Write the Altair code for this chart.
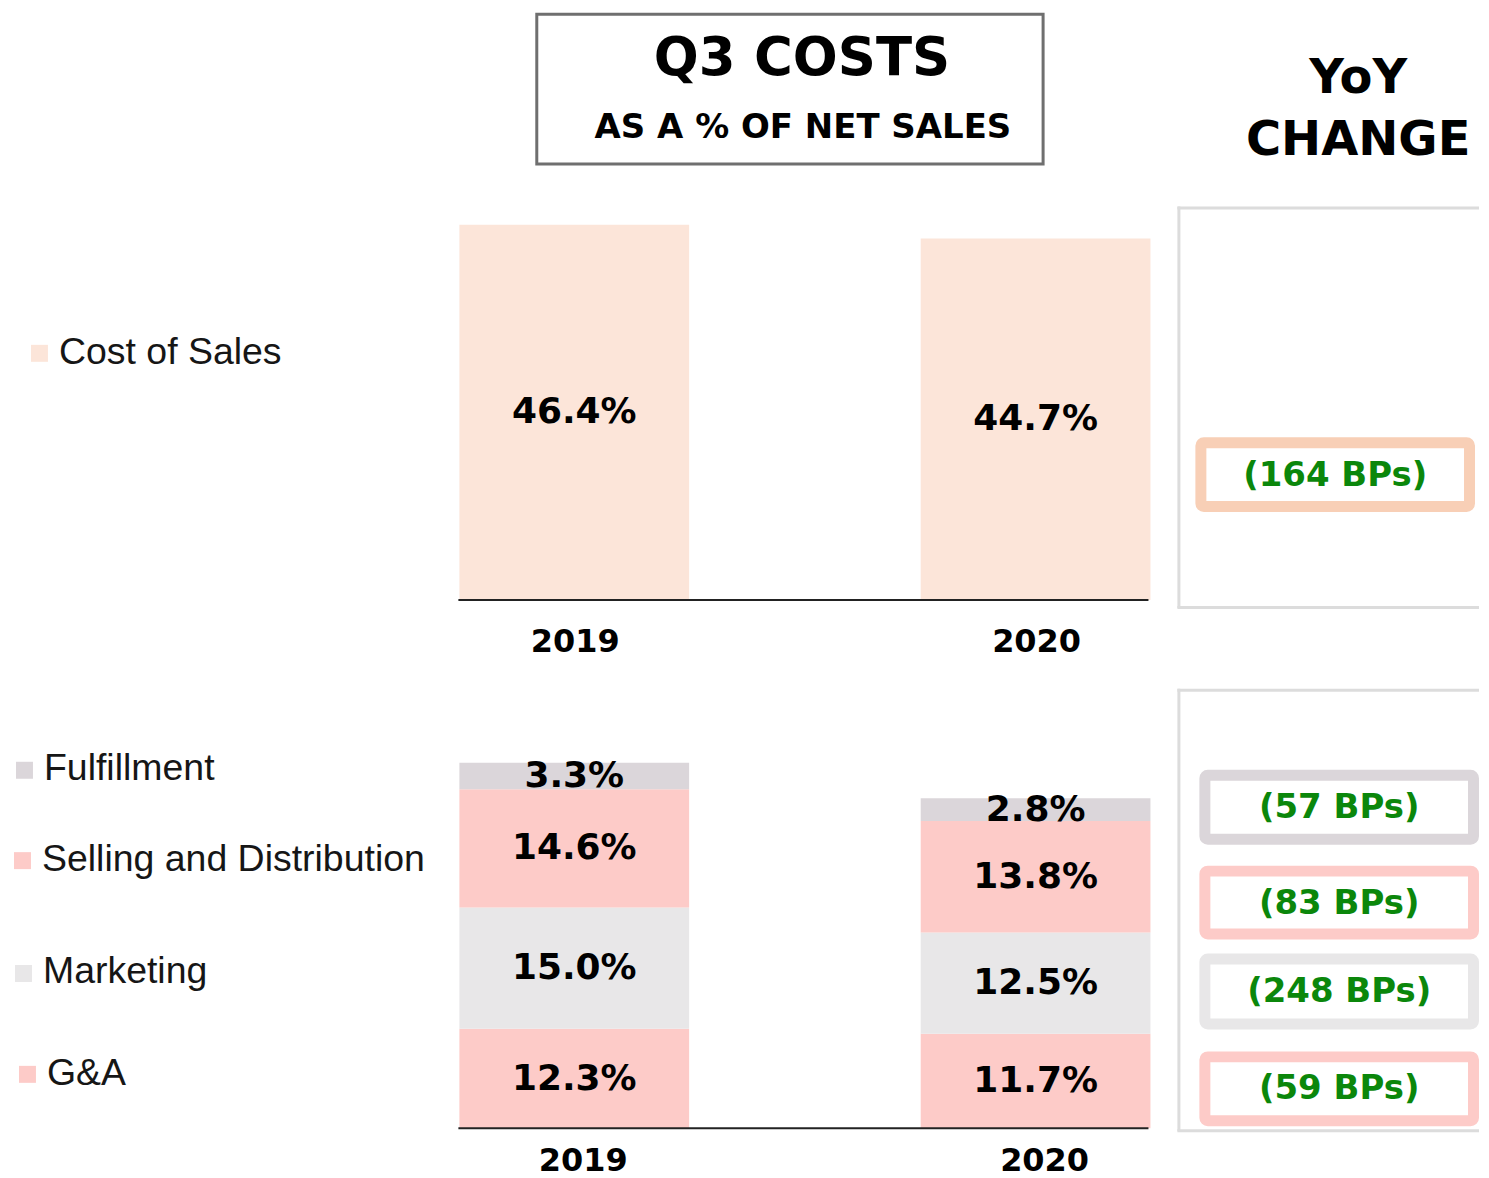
import altair as alt
import pandas as pd

# ---------------- data ----------------
years = ["2019", "2020"]
cos_category = "Cost of Sales"
cos_values = [46.4, 44.7]

opex_categories = ["G&A", "Marketing", "Selling and Distribution", "Fulfillment"]  # bottom -> top
opex_2019 = [12.3, 15.0, 14.6, 3.3]
opex_2020 = [11.7, 12.5, 13.8, 2.8]

legend_bottom = ["Fulfillment", "Selling and Distribution", "Marketing", "G&A"]
yoy_cos = ["(164 BPs)"]
yoy_opex = ["(57 BPs)", "(83 BPs)", "(248 BPs)", "(59 BPs)"]  # same order as legend_bottom

title_lines = ["Q3 COSTS", "AS A % OF NET SALES"]
yoy_title = ["YoY", "CHANGE"]

# ---------------- styles / layout ----------------
palette = {
    "Cost of Sales": "#FCE5D9",
    "Fulfillment": "#DBD6DA",
    "Selling and Distribution": "#FDCBC8",
    "Marketing": "#E8E7E8",
    "G&A": "#FDCBC8",
}
box_stroke = {
    "Cost of Sales": "#F8CFB6",
    "Fulfillment": "#DBD6DA",
    "Selling and Distribution": "#FDCBC8",
    "Marketing": "#E8E7E8",
    "G&A": "#FDCBC8",
}
GREEN = "#0B870B"
BOLD = "DejaVu Sans"
SANS = "Liberation Sans"

W = 1473
PX_PER_PCT = 8.1
H1 = 592
H2 = 449
SPACING = 80

xscale = alt.Scale(domain=years, range=[452, 1144], paddingInner=0.502, paddingOuter=0)
y1scale = alt.Scale(domain=[0, H1 / PX_PER_PCT], nice=False, zero=True)
y2scale = alt.Scale(domain=[0, H2 / PX_PER_PCT], nice=False, zero=True)
color_scale = alt.Scale(domain=list(palette.keys()), range=list(palette.values()))

dummy = pd.DataFrame({"d": [0]})


def text_at(txt, x, y, size, font=BOLD, weight="bold", color="black", align="center"):
    return alt.Chart(dummy).mark_text(
        text=txt, font=font, fontWeight=weight, fontSize=size, color=color,
        align=align, baseline="middle"
    ).encode(x=alt.value(x), y=alt.value(y))


def rule_at(x, x2, y, y2, color, width):
    return alt.Chart(dummy).mark_rule(color=color, strokeWidth=width).encode(
        x=alt.value(x), x2=alt.value(x2), y=alt.value(y), y2=alt.value(y2)
    )


def box_at(x, x2, y, y2, stroke, width, fill="white", radius=3):
    return alt.Chart(dummy).mark_rect(
        fill=fill, stroke=stroke, strokeWidth=width, cornerRadius=radius
    ).encode(x=alt.value(x), x2=alt.value(x2), y=alt.value(y), y2=alt.value(y2))


def legend_item(label, sq_x, sq_y, tx, ty, color):
    sq = alt.Chart(dummy).mark_square(size=289, color=color, filled=True, opacity=1).encode(
        x=alt.value(sq_x), y=alt.value(sq_y)
    )
    return [sq, text_at(label, tx, ty, 37.5, font=SANS, weight="normal", color="#161616", align="left")]


# ---------------- top panel: cost of sales ----------------
df_top = pd.DataFrame({"year": years, "category": cos_category, "value": cos_values})

top_bars = alt.Chart(df_top).mark_bar().encode(
    x=alt.X("year:N", scale=xscale, axis=None),
    y=alt.Y("value:Q", scale=y1scale, axis=None),
    color=alt.Color("category:N", scale=color_scale, legend=None),
)
top_labels = alt.Chart(df_top).transform_calculate(
    mid="datum.value / 2", label="format(datum.value, '.1f') + '%'"
).mark_text(font=BOLD, fontWeight="bold", fontSize=36, color="black").encode(
    x=alt.X("year:N", scale=xscale, axis=None),
    y=alt.Y("mid:Q", scale=y1scale, axis=None),
    text="label:N",
)
top_base = alt.Chart(dummy).mark_rule(color="#222222", strokeWidth=2).encode(
    x=alt.value(451), x2=alt.value(1142), y=alt.YDatum(0, scale=y1scale, axis=None)
)
top_years = alt.Chart(pd.DataFrame({"year": years})).mark_text(
    font=BOLD, fontWeight="bold", fontSize=32, color="black", dx=1
).encode(x=alt.X("year:N", scale=xscale, axis=None), y=alt.value(634), text="year:N")

top_layers = [
    box_at(529.5, 1036.5, 5.5, 155.5, "#6F6F6F", 3, fill="white", radius=0),
    text_at(title_lines[0], 795, 50, 53),
    text_at(title_lines[1], 796, 119, 34),
    text_at(yoy_title[0], 1352, 70, 48),
    text_at(yoy_title[1], 1352, 132, 48),
    rule_at(1171, 1473, 199.5, 199.5, "#DCDCDC", 3),
    rule_at(1172.5, 1172.5, 198, 600, "#DCDCDC", 3),
    rule_at(1171, 1473, 599.5, 599.5, "#DCDCDC", 3),
    top_bars,
    top_labels,
    top_base,
    top_years,
    box_at(1194.5, 1463.5, 434.5, 498.5, box_stroke[cos_category], 11),
    text_at(yoy_cos[0], 1329, 468, 34, color=GREEN),
] + legend_item(cos_category, 31.5, 345, 51, 345, palette[cos_category])

top = alt.layer(*top_layers).properties(width=W, height=H1)

# ---------------- bottom panel: operating expenses ----------------
rows = []
for yr, vals in zip(years, [opex_2019, opex_2020]):
    for i, (cat, v) in enumerate(zip(opex_categories, vals)):
        rows.append({"year": yr, "category": cat, "value": v, "order": i})
df_opex = pd.DataFrame(rows)

stacked = alt.Chart(df_opex).transform_stack(
    stack="value", groupby=["year"], as_=["y0", "y1"], sort=[alt.SortField("order", order="ascending")]
).transform_calculate(
    mid="(datum.y0 + datum.y1) / 2", label="format(datum.value, '.1f') + '%'"
)
bot_bars = stacked.mark_bar().encode(
    x=alt.X("year:N", scale=xscale, axis=None),
    y=alt.Y("y0:Q", scale=y2scale, axis=None),
    y2="y1:Q",
    color=alt.Color("category:N", scale=color_scale, legend=None),
)
bot_labels = stacked.mark_text(font=BOLD, fontWeight="bold", fontSize=36, color="black").encode(
    x=alt.X("year:N", scale=xscale, axis=None),
    y=alt.Y("mid:Q", scale=y2scale, axis=None),
    text="label:N",
)
bot_base = alt.Chart(dummy).mark_rule(color="#222222", strokeWidth=2).encode(
    x=alt.value(451), x2=alt.value(1142), y=alt.YDatum(0, scale=y2scale, axis=None)
)
bot_years = alt.Chart(pd.DataFrame({"year": years})).mark_text(
    font=BOLD, fontWeight="bold", fontSize=32, color="black", dx=9
).encode(x=alt.X("year:N", scale=xscale, axis=None), y=alt.value(482), text="year:N")

legend_sq_pos = [(16.5, 90.5), (14.5, 181), (15.5, 294), (19.5, 395)]
legend_txt_pos = [(36, 89), (34, 180), (35, 293), (39, 395)]
box_y_pos = [(95.5, 159.5), (191.5, 254.5), (279.5, 344.5), (377.5, 441.5)]
box_txt_y = [128, 224, 313, 410]

bot_layers = [
    rule_at(1171, 1473, 10.5, 10.5, "#DCDCDC", 3),
    rule_at(1172.5, 1172.5, 9, 452, "#DCDCDC", 3),
    rule_at(1171, 1473, 451.5, 451.5, "#DCDCDC", 3),
    bot_bars,
    bot_labels,
    bot_base,
    bot_years,
]
for cat, txt, (sx, sy), (tx, ty), (by0, by1), bty in zip(
    legend_bottom, yoy_opex, legend_sq_pos, legend_txt_pos, box_y_pos, box_txt_y
):
    bot_layers += legend_item(cat, sx, sy, tx, ty, palette[cat])
    bot_layers.append(box_at(1198.5, 1467.5, by0, by1, box_stroke[cat], 11))
    bot_layers.append(text_at(txt, 1333, bty, 34, color=GREEN))

bottom = alt.layer(*bot_layers).properties(width=W, height=H2)

chart = alt.vconcat(top, bottom, spacing=SPACING, bounds="flush").properties(
    padding=0, background="white"
).configure_view(stroke=None)

chart.save("out.html", embed_options={"renderer": "svg", "actions": False})
